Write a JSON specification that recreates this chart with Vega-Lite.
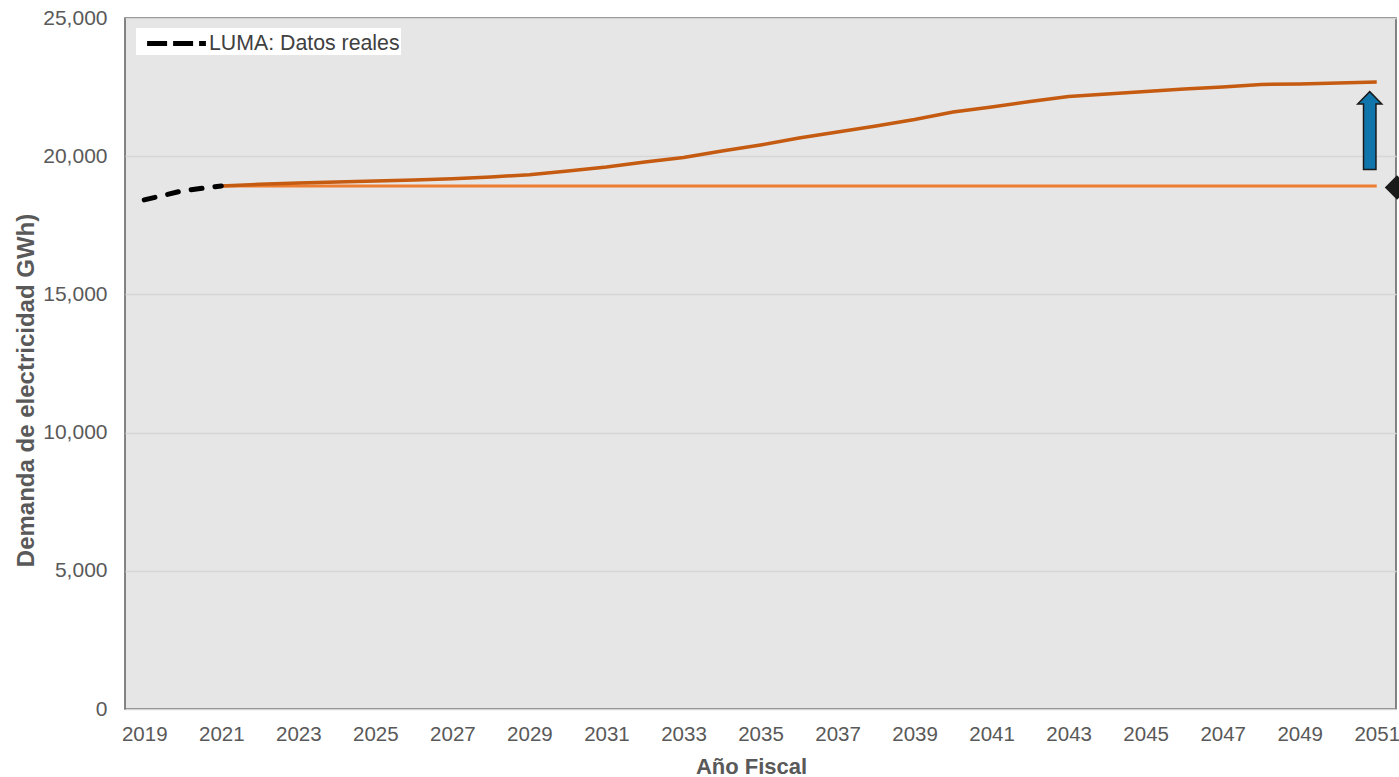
{
  "$schema": "https://vega.github.io/schema/vega-lite/v6.json",
  "width": 1271,
  "height": 691,
  "autosize": "none",
  "padding": {"left": 125, "top": 18, "right": 3, "bottom": 68},
  "background": "white",
  "config": {
    "view": {"fill": "#E6E6E6", "stroke": "#5F5F5F", "strokeWidth": 1.5},
    "font": "Liberation Sans",
    "axis": {"labelFont": "Liberation Sans", "titleFont": "Liberation Sans"}
  },
  "data": {
    "values": [
      {"series": "LUMA: Datos reales", "year": 2019, "value": 18420},
      {"series": "LUMA: Datos reales", "year": 2020, "value": 18750},
      {"series": "LUMA: Datos reales", "year": 2021, "value": 18925},
      {"series": "base", "year": 2021, "value": 18925},
      {"series": "base", "year": 2051, "value": 18925},
      {"series": "proj", "year": 2021, "value": 18925},
      {"series": "proj", "year": 2022, "value": 18985},
      {"series": "proj", "year": 2023, "value": 19030},
      {"series": "proj", "year": 2024, "value": 19065},
      {"series": "proj", "year": 2025, "value": 19100},
      {"series": "proj", "year": 2026, "value": 19140},
      {"series": "proj", "year": 2027, "value": 19185},
      {"series": "proj", "year": 2028, "value": 19250},
      {"series": "proj", "year": 2029, "value": 19330},
      {"series": "proj", "year": 2030, "value": 19465},
      {"series": "proj", "year": 2031, "value": 19610},
      {"series": "proj", "year": 2032, "value": 19790},
      {"series": "proj", "year": 2033, "value": 19955},
      {"series": "proj", "year": 2034, "value": 20185},
      {"series": "proj", "year": 2035, "value": 20405},
      {"series": "proj", "year": 2036, "value": 20655},
      {"series": "proj", "year": 2037, "value": 20875},
      {"series": "proj", "year": 2038, "value": 21095},
      {"series": "proj", "year": 2039, "value": 21330},
      {"series": "proj", "year": 2040, "value": 21600},
      {"series": "proj", "year": 2041, "value": 21780},
      {"series": "proj", "year": 2042, "value": 21980},
      {"series": "proj", "year": 2043, "value": 22160},
      {"series": "proj", "year": 2044, "value": 22250},
      {"series": "proj", "year": 2045, "value": 22340},
      {"series": "proj", "year": 2046, "value": 22430},
      {"series": "proj", "year": 2047, "value": 22505},
      {"series": "proj", "year": 2048, "value": 22595},
      {"series": "proj", "year": 2049, "value": 22615},
      {"series": "proj", "year": 2050, "value": 22650},
      {"series": "proj", "year": 2051, "value": 22685},
      {"series": "arrow", "year": 2051, "value": 20930},
      {"series": "marker", "year": 2051.5, "value": 18870}
    ]
  },
  "encoding": {
    "x": {
      "field": "year", "type": "quantitative",
      "scale": {"domain": [2018.5, 2051.5], "nice": false, "zero": false},
      "axis": {
        "values": [2019, 2021, 2023, 2025, 2027, 2029, 2031, 2033, 2035, 2037, 2039, 2041, 2043, 2045, 2047, 2049, 2051],
        "format": "d", "grid": false, "ticks": false, "domain": false,
        "labelFontSize": 20.5, "labelColor": "#595959", "labelPadding": 15,
        "title": "Año Fiscal", "titleFontSize": 22, "titleFontWeight": "bold", "titleColor": "#595959",
        "titleX": 626, "titleY": 57, "titleBaseline": "middle"
      }
    },
    "y": {
      "field": "value", "type": "quantitative",
      "scale": {"domain": [0, 25000], "nice": false},
      "axis": {
        "values": [0, 5000, 10000, 15000, 20000, 25000],
        "format": ",d", "grid": true, "gridColor": "#D6D6D6", "gridWidth": 1.5,
        "ticks": false, "domain": false,
        "labelFontSize": 21, "labelColor": "#595959", "labelPadding": 18,
        "title": "Demanda de electricidad  GWh)", "titleFontSize": 24, "titleFontWeight": "bold", "titleColor": "#595959",
        "titleX": -99, "titleY": 372, "titleBaseline": "middle", "titleAngle": 270, "titleAlign": "center"
      }
    }
  },
  "layer": [
    {
      "transform": [{"filter": "datum.series === 'base'"}],
      "mark": {"type": "line", "color": "#ED7D31", "strokeWidth": 3}
    },
    {
      "transform": [{"filter": "datum.series === 'proj'"}],
      "mark": {"type": "line", "color": "#C55A11", "strokeWidth": 3.5}
    },
    {
      "transform": [{"filter": "datum.series === 'LUMA: Datos reales'"}],
      "mark": {"type": "line", "strokeWidth": 5, "strokeDash": [11, 13], "strokeCap": "round"},
      "encoding": {
        "color": {
          "field": "series", "type": "nominal",
          "scale": {"domain": ["LUMA: Datos reales"], "range": ["#000000"]},
          "legend": {
            "title": null, "orient": "none", "legendX": 11, "legendY": 10,
            "symbolType": "M -2.45 0 L 2.45 0", "symbolSize": 576, "symbolOffset": 25,
            "symbolStrokeWidth": 5, "symbolDash": [20, 6],
            "labelFontSize": 21.3, "labelColor": "#404040", "labelFont": "Liberation Sans",
            "labelLimit": 400, "labelOffset": 18,
            "labelExpr": "datum.label + '\u00a0\u00a0\u00a0\u00a0'",
            "fillColor": "white", "padding": 1
          }
        }
      }
    },
    {
      "transform": [{"filter": "datum.series === 'arrow'"}],
      "mark": {
        "type": "point", "filled": true, "fill": "#0F75AB", "stroke": "#1A1A1A", "strokeWidth": 1.5, "opacity": 1,
        "shape": "M -0.16 1 L 0.16 1 L 0.16 -0.68 L 0.31 -0.68 L 0 -1 L -0.31 -0.68 L -0.16 -0.68 Z",
        "size": 6050, "xOffset": -7
      }
    },
    {
      "transform": [{"filter": "datum.series === 'marker'"}],
      "mark": {"type": "point", "filled": true, "fill": "#1A1A1A", "shape": "diamond", "size": 600, "opacity": 1, "xOffset": 1, "clip": false}
    }
  ]
}
